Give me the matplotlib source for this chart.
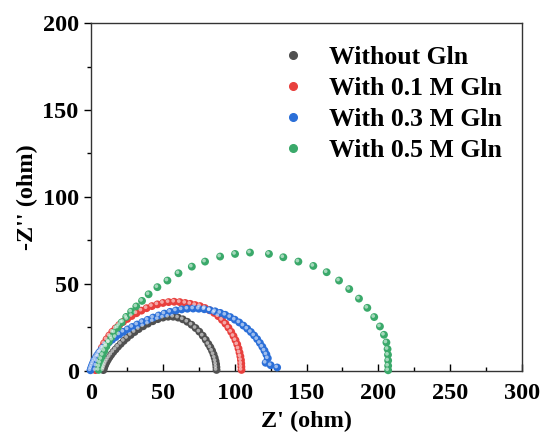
import matplotlib
matplotlib.use("Agg")
import matplotlib.pyplot as plt
from matplotlib.lines import Line2D
from matplotlib.ticker import MultipleLocator
import matplotlib.transforms as mtransforms

plt.rcParams['font.family'] = ['Liberation Serif', 'DejaVu Serif']
plt.rcParams['font.weight'] = 'bold'

labels = ['Without Gln', 'With 0.1 M Gln', 'With 0.3 M Gln', 'With 0.5 M Gln']
colors = ['#505050', '#e8403d', '#2b6fd8', '#3aa96a']

# Z' / -Z'' (ohm)
x_blank = [8.5, 8.9, 9.4, 10.0, 10.8, 11.7, 12.8, 14.0, 15.4, 17.0, 18.7, 20.6, 22.7, 25.0,
           27.5, 30.2, 33.1, 36.2, 39.5, 42.9, 46.4, 50.0, 53.6, 57.1, 60.5, 63.8, 66.9, 69.9,
           72.7, 75.3, 77.7, 79.8, 81.6, 83.0, 84.2, 85.2, 86.0, 86.6, 87.0, 87.2, 87.3]
y_blank = [0.4, 1.5, 2.7, 3.9, 5.2, 6.5, 7.9, 9.3, 10.8, 12.3, 13.9, 15.5, 17.2, 18.9,
           20.6, 22.3, 24.0, 25.6, 27.1, 28.5, 29.7, 30.6, 31.1, 31.1, 30.6, 29.6, 28.2, 26.5,
           24.6, 22.5, 20.2, 17.8, 15.4, 13.5, 11.5, 9.5, 7.5, 5.6, 3.8, 2.1, 0.5]

x_01 = [3.0, 3.5, 4.2, 5.1, 6.2, 7.5, 9.0, 10.7, 12.6, 14.7, 17.0, 19.5, 22.2, 25.1,
        28.2, 31.5, 35.0, 38.6, 42.3, 46.1, 50.0, 53.9, 57.8, 61.7, 65.5, 69.0, 72.4, 75.8,
        79.2, 82.5, 85.6, 88.5, 91.1, 93.5, 95.6, 97.5, 99.1, 100.5, 101.7, 102.6, 103.3,
        103.9, 104.3, 104.5, 104.6, 104.7]
y_01 = [0.4, 3.0, 5.6, 8.2, 10.8, 13.3, 15.8, 18.1, 20.3, 22.4, 24.4, 26.3, 28.1, 29.8,
        31.5, 33.1, 34.6, 36.0, 37.2, 38.2, 39.0, 39.5, 39.7, 39.5, 39.0, 38.5, 37.8, 37.2,
        36.1, 34.8, 33.3, 31.4, 29.3, 27.1, 24.8, 22.4, 20.0, 17.6, 15.2, 12.8, 10.5,
        8.3, 6.2, 4.2, 2.3, 0.5]

x_03 = [-0.5, 0.0, 0.6, 1.3, 2.1, 3.1, 4.2, 5.5, 7.0, 8.6, 10.4, 12.4, 14.6, 17.0,
        19.6, 22.4, 25.4, 28.6, 32.0, 35.6, 39.3, 43.1, 47.0, 51.0, 55.0, 59.0, 63.0, 67.0,
        71.0, 74.9, 78.8, 82.6, 86.3, 89.9, 93.4, 96.8, 100.0, 103.1, 106.0, 108.7, 111.2,
        113.5, 115.6, 117.5, 119.2, 120.7, 122.0, 123.0, 121.5, 125.0, 129.5]
y_03 = [0.3, 1.6, 3.0, 4.4, 5.9, 7.4, 8.9, 10.4, 11.9, 13.4, 14.9, 16.4, 17.9, 19.4,
        20.9, 22.4, 23.8, 25.2, 26.6, 28.0, 29.3, 30.6, 31.8, 32.9, 33.9, 34.7, 35.3, 35.7,
        35.8, 35.7, 35.4, 34.9, 34.2, 33.3, 32.2, 30.9, 29.4, 27.8, 26.0, 24.2, 22.3,
        20.3, 18.2, 16.0, 13.8, 11.6, 9.4, 7.2, 4.6, 3.2, 1.9]

x_05 = [5.2, 5.6, 6.2, 7.0, 8.0, 9.2, 10.6, 12.2, 14.0, 16.1, 18.5, 21.2, 24.4, 27.8,
        31.4, 35.4, 40.0, 46.1, 53.1, 60.8, 70.1, 79.3, 89.8, 100.2, 110.6, 123.8, 133.8,
        144.3, 154.7, 164.0, 172.6, 179.7, 186.5, 192.3, 197.1, 201.1, 203.9, 205.6, 206.4,
        206.7, 206.8, 206.8, 206.8]
y_05 = [0.5, 2.5, 4.6, 6.8, 9.1, 11.5, 14.0, 16.6, 19.3, 22.1, 24.9, 27.8, 31.0, 34.0,
        37.0, 40.2, 44.0, 48.1, 51.9, 56.1, 59.9, 62.8, 65.7, 67.2, 68.0, 67.2, 65.3,
        62.8, 60.3, 56.7, 51.9, 47.0, 41.5, 36.2, 30.9, 25.5, 20.7, 16.3, 12.5,
        9.2, 5.9, 2.9, 0.3]

xs = [x_blank, x_01, x_03, x_05]
ys = [y_blank, y_01, y_03, y_05]

fig = plt.figure(figsize=(5.46, 4.43), dpi=100)
ax = fig.add_axes([0.167, 0.163, 0.789, 0.785])

# little shaded balls: base dot + soft highlight shifted up-left
shine = mtransforms.offset_copy(ax.transData, fig=fig, x=-1.0, y=1.0, units='dots')
for x, y, c in zip(xs, ys, colors):
    ax.scatter(x, y, s=32, color=c, edgecolors='none', zorder=3, clip_on=False)
    ax.scatter(x, y, s=7, color='white', alpha=0.55, edgecolors='none', zorder=4,
               transform=shine, clip_on=False)

ax.set_xlim(0, 300)
ax.set_ylim(0, 200)
ax.xaxis.set_major_locator(MultipleLocator(50))
ax.xaxis.set_minor_locator(MultipleLocator(25))
ax.yaxis.set_major_locator(MultipleLocator(50))
ax.yaxis.set_minor_locator(MultipleLocator(25))
ax.tick_params(axis='x', which='both', direction='in', top=False, pad=9)
ax.tick_params(axis='y', which='both', direction='out', right=False, pad=4)
ax.tick_params(which='major', length=5, width=1, labelsize=17.5)
ax.tick_params(which='minor', length=3, width=1)
for lab in ax.get_xticklabels() + ax.get_yticklabels():
    lab.set_fontweight('bold')
for sp in ax.spines.values():
    sp.set_linewidth(1.0)
    sp.set_color('#333333')

ax.set_xlabel("Z' (ohm)", fontsize=17.5, fontweight='bold', labelpad=5)
ax.set_ylabel("-Z'' (ohm)", fontsize=17.5, fontweight='bold', labelpad=3)

handles = [Line2D([], [], linestyle='none', marker='o', markersize=5.5, color=c) for c in colors]
ax.legend(handles, labels, loc='upper left', bbox_to_anchor=(0.439, 0.935), frameon=False,
          prop={'family': 'Liberation Serif', 'weight': 'bold', 'size': 18.5},
          labelspacing=0.31, handletextpad=0.9, handlelength=1.0,
          borderpad=0, borderaxespad=0)

fig.savefig('out.png', dpi=100)
